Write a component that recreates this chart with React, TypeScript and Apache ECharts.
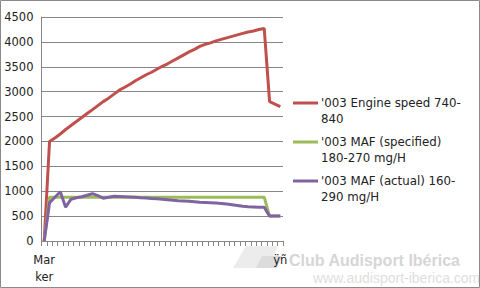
import React, { useEffect, useRef } from "react";
import * as echarts from "echarts";

const categories: string[] = [
  "Marker", "", "", "", "", "", "", "", "", "", "", "", "", "", "", "",
  "", "", "", "", "", "", "", "", "", "", "", "", "", "", "", "",
  "", "", "", "", "", "", "", "", "", "", "", "", "ÿñ",
];

const engineSpeed: number[] = [
  0, 2000, 2070, 2150, 2240, 2320, 2400, 2480, 2560, 2640, 2720, 2800, 2870, 2950, 3030,
  3090, 3150, 3220, 3280, 3340, 3390, 3450, 3510, 3560, 3620, 3680, 3740, 3800, 3850, 3910,
  3950, 3980, 4020, 4050, 4080, 4110, 4140, 4170, 4200, 4220, 4250, 4270, 2800, 2750, 2700,
];

const mafSpecified: number[] = [
  0, 880, 880, 880, 880, 880, 880, 880, 880, 880, 880, 880, 880, 880, 880,
  880, 880, 880, 880, 880, 880, 880, 880, 880, 880, 880, 880, 880, 880, 880,
  880, 880, 880, 880, 880, 880, 880, 880, 880, 880, 880, 880, 500, 500, 500,
];

const mafActual: number[] = [
  0, 770, 880, 990, 680, 840, 870, 890, 920, 950, 910, 860, 880, 900, 895,
  890, 885, 880, 870, 865, 855, 848, 840, 830, 820, 810, 805, 800, 790, 780,
  775, 770, 765, 755, 745, 730, 715, 700, 690, 685, 680, 680, 500, 500, 500,
];

const seriesNames: string[] = [
  "'003 Engine speed 740-840",
  "'003 MAF (specified) 180-270 mg/H",
  "'003 MAF (actual) 160-290 mg/H",
];
const legendLines: string[] = [
  "'003 Engine speed 740-\n840",
  "'003 MAF (specified)\n180-270 mg/H",
  "'003 MAF (actual) 160-\n290 mg/H",
];

const yTicks = { min: 0, max: 4500, interval: 500 };

const FONT = "DejaVu Sans";
const colors = ["#C0504D", "#9BBB59", "#8064A2"];
// legend icon: line sitting on the first text line
const legendIcon = "path://M0,0h0.01v0.01h-0.01z M0,6.5h25v3h-25z M0,31.99h0.01v0.01h-0.01z";

export default function App() {
  const ref = useRef<HTMLDivElement>(null);
  useEffect(() => {
    if (!ref.current) return;
    const chart = echarts.init(ref.current, undefined, { renderer: "svg" });
    const datasets = [engineSpeed, mafSpecified, mafActual];
    chart.setOption({
      animation: false,
      backgroundColor: "#ffffff",
      grid: { left: 41.5, right: 197, top: 17, bottom: 47, containLabel: false },
      legend: {
        orient: "vertical",
        left: 288,
        top: 90,
        itemWidth: 25,
        itemHeight: 32,
        itemGap: 7,
        icon: legendIcon,
        data: seriesNames.map((n, i) => ({ name: n, itemStyle: { color: colors[i] } })),
        formatter: (name: string) => legendLines[seriesNames.indexOf(name)],
        textStyle: { fontFamily: FONT, fontSize: 11.8, color: "#222", lineHeight: 16, padding: [0, 0, 0, -2] },
      },
      xAxis: {
        type: "category",
        data: categories,
        boundaryGap: true,
        axisLine: { show: true, lineStyle: { color: "#868686", width: 1 } },
        axisTick: { show: true, interval: 0, length: 5, lineStyle: { color: "#868686" } },
        axisLabel: {
          interval: 0,
          margin: 10,
          fontFamily: FONT,
          fontSize: 11.5,
          color: "#222",
          lineHeight: 17,
          formatter: (v: string) => (v === "Marker" ? "Mar\nker" : v),
        },
        splitLine: { show: false },
      },
      yAxis: {
        type: "value",
        min: yTicks.min,
        max: yTicks.max,
        interval: yTicks.interval,
        axisLine: { show: true, lineStyle: { color: "#868686", width: 1 } },
        axisTick: { show: false },
        axisLabel: {
          fontFamily: FONT,
          fontSize: 11.5,
          color: "#222",
          margin: 8,
          formatter: (v: number) => String(v),
        },
        splitLine: { show: true, lineStyle: { color: "#868686", width: 1 } },
      },
      series: seriesNames.map((n, i) => ({
        name: n,
        type: "line",
        data: datasets[i],
        symbol: "none",
        color: colors[i],
        lineStyle: { color: colors[i], width: 3 },
        z: 2 + i,
      })),
      graphic: [
        {
          type: "rect",
          shape: { x: 0.5, y: 0.5, width: 479, height: 287 },
          style: { fill: "none", stroke: "#8a8a8a", lineWidth: 1 },
          silent: true,
          z: 100,
        },
        {
          type: "polygon",
          shape: { points: [[246, 246], [278, 246], [268, 268], [233, 268]] },
          style: { fill: "#ececec" },
          silent: true,
          z: -1,
        },
        {
          type: "polygon",
          shape: { points: [[262, 256], [282, 256], [277, 268], [256, 268]] },
          style: { fill: "#dcdcdc" },
          silent: true,
          z: -1,
        },
        {
          type: "text",
          x: 289,
          y: 252,
          style: {
            text: "Club Audisport Ibérica",
            fontFamily: "Liberation Sans",
            fontWeight: "bold",
            fontSize: 16,
            fill: "#d6d6d6",
          },
          silent: true,
          z: -1,
        },
        {
          type: "text",
          x: 313,
          y: 271,
          style: {
            text: "www.audisport-iberica.com",
            fontFamily: "Liberation Sans",
            fontSize: 14,
            fill: "#dedede",
          },
          silent: true,
          z: -1,
        },
      ],
    });
    return () => chart.dispose();
  }, []);
  return (
    <div
      ref={ref}
      style={{ position: "fixed", left: 0, top: 0, width: 480, height: 288 }}
    />
  );
}
